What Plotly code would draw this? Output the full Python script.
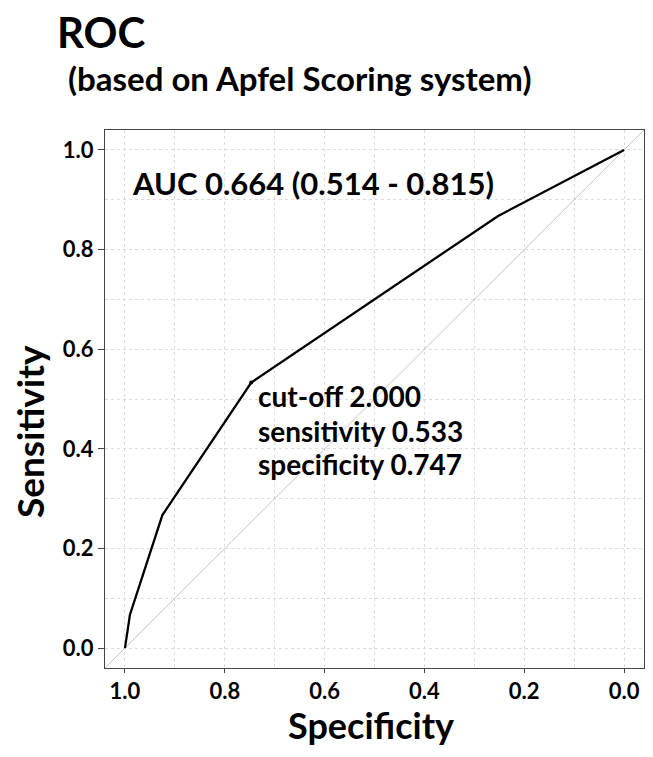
import plotly.graph_objects as go

# ROC curve data (specificity on x, reversed; sensitivity on y)
specificity = [1.0, 0.99, 0.925, 0.747, 0.253, 0.0]
sensitivity = [0.0, 0.067, 0.267, 0.533, 0.867, 1.0]

cutoff = 2.000
cut_sens = 0.533
cut_spec = 0.747
auc = 0.664
auc_lo = 0.514
auc_hi = 0.815

x_ticks = [1.0, 0.8, 0.6, 0.4, 0.2, 0.0]
y_ticks = [0.0, 0.2, 0.4, 0.6, 0.8, 1.0]

FONT = "Lato"
AX_RANGE_X = [1.04, -0.04]
AX_RANGE_Y = [-0.04, 1.04]

fig = go.Figure()

# reference diagonal
fig.add_trace(go.Scatter(
    x=[AX_RANGE_X[0], AX_RANGE_X[1]], y=[AX_RANGE_Y[0], AX_RANGE_Y[1]],
    mode="lines", line=dict(color="#c4c4c4", width=1), hoverinfo="skip", showlegend=False))

# ROC curve
fig.add_trace(go.Scatter(
    x=specificity, y=sensitivity, mode="lines",
    line=dict(color="black", width=2.3), showlegend=False))

# cut-off marker
fig.add_trace(go.Scatter(
    x=[cut_spec], y=[cut_sens], mode="markers",
    marker=dict(color="black", size=4), showlegend=False))

grid_col = "#dcdcdc"
axis_common = dict(
    showline=True, linecolor="#444444", linewidth=1, mirror=True,
    ticks="outside", tickcolor="#444444",
    showgrid=True, gridcolor=grid_col, griddash="dot", gridwidth=1,
    zeroline=False,
    tickfont=dict(family=FONT, size=22, color="black", weight="bold"),
    minor=dict(dtick=0.1, showgrid=True, gridcolor=grid_col, griddash="dot", gridwidth=1, ticks=""),
)

fig.update_xaxes(range=AX_RANGE_X, tickvals=x_ticks, ticklen=4,
                 ticktext=[f"{v:.1f}" for v in x_ticks], **axis_common)
fig.update_yaxes(range=AX_RANGE_Y, tickvals=y_ticks, ticklen=6,
                 ticktext=[f"{v:.1f}" for v in y_ticks], **axis_common)

def note(text, x, y, size, xref="x", yref="y", xanchor="left", angle=0):
    return dict(text=f"<b>{text}</b>", xref=xref, yref=yref, x=x, y=y,
                xanchor=xanchor, yanchor="middle", showarrow=False, textangle=angle,
                font=dict(family=FONT, size=size, color="black"))

annotations = [
    note("ROC", -0.093, 1.182, 42, "paper", "paper"),
    note("(based on Apfel Scoring system)", -0.073, 1.097, 33, "paper", "paper"),
    note(f"AUC {auc:.3f} ({auc_lo:.3f} - {auc_hi:.3f})", 0.99, 0.934, 31),
    note(f"cut-off {cutoff:.3f}", 0.738, 0.506, 28),
    note(f"sensitivity {cut_sens:.3f}", 0.738, 0.436, 28),
    note(f"specificity {cut_spec:.3f}", 0.738, 0.37, 28),
    note("Specificity", 0.4935, -0.106, 36, "paper", "paper", xanchor="center"),
    note("Sensitivity", -0.139, 0.4387, 37, "paper", "paper", xanchor="center", angle=-90),
]

# page body has an 8px margin; size the figure so the plot sits where the reference's does
fig.update_layout(
    width=645, height=749,
    margin=dict(l=97, r=9, t=122, b=89),
    paper_bgcolor="white", plot_bgcolor="white",
    annotations=annotations,
    showlegend=False,
)

fig.write_html("out.html")
